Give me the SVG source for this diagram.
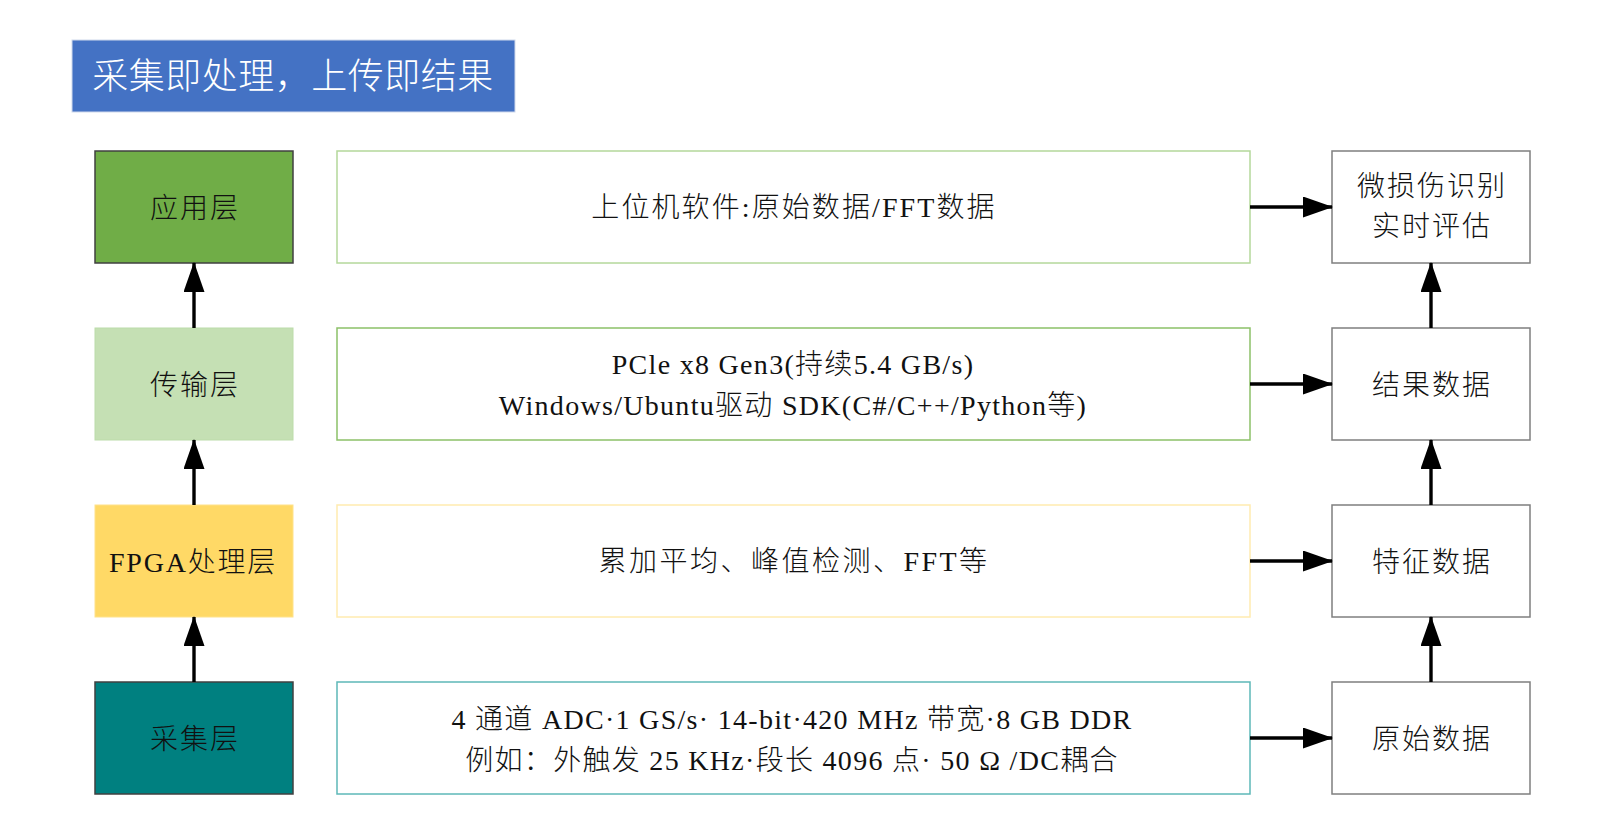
<svg xmlns="http://www.w3.org/2000/svg" width="1600" height="837" viewBox="0 0 1600 837">
<defs>
<marker id="arr" viewBox="0 0 30 21" markerWidth="30" markerHeight="21" refX="29" refY="10.5" orient="auto" markerUnits="userSpaceOnUse">
<path d="M0,0 L30,10.5 L0,21 Z" fill="#000"/>
</marker>
</defs>
<style>
text{font-family:"Liberation Serif","Noto Sans CJK SC",serif;font-size:28px;font-weight:300;fill:#111;text-anchor:middle;letter-spacing:1.3px}
.title{font-size:36px;fill:#fff;font-family:"Noto Sans CJK SC","Liberation Sans",sans-serif;font-weight:300;letter-spacing:0.5px}
.cj{font-family:"Noto Sans CJK SC",serif;font-weight:300;letter-spacing:2px}
.conn{stroke:#000;stroke-width:3.4;fill:none;marker-end:url(#arr)}
.mid{fill:#fff;stroke-width:1.5}
.right{fill:#fff;stroke:#7f7f7f;stroke-width:1.5}
</style>
<rect width="1600" height="837" fill="#fff"/>
<g id="title">
<rect x="72" y="40" width="443" height="72" fill="#4472C4" stroke="#d0d9ec" stroke-width="1"/>
<text class="title" x="293" y="89">采集即处理，上传即结果</text>
</g>
<g id="app-layer">
<rect x="95" y="151" width="198" height="112" fill="#70AD47" stroke="#404040" stroke-width="1.5"/>
<text class="cj" x="195" y="218">应用层</text>
</g>
<g id="trans-layer">
<rect x="95" y="328" width="198" height="112" fill="#C5E0B4" stroke="#bcdcaa" stroke-width="1"/>
<text class="cj" x="195" y="395">传输层</text>
</g>
<g id="fpga-layer">
<rect x="95" y="505" width="198" height="112" fill="#FFD966" stroke="#ffe28a" stroke-width="1"/>
<text x="193" y="572" style="letter-spacing:1.8px"><tspan>FPGA</tspan><tspan class="cj" style="letter-spacing:1.8px">处理层</tspan></text>
</g>
<g id="acq-layer">
<rect x="95" y="682" width="198" height="112" fill="#008080" stroke="#404040" stroke-width="1.5"/>
<text class="cj" x="195" y="749">采集层</text>
</g>
<g id="app-detail">
<rect class="mid" x="337" y="151" width="913" height="112" stroke="#B4D89B"/>
<text x="794" y="217" style="letter-spacing:2.1px">上位机软件:原始数据/FFT数据</text>
</g>
<g id="trans-detail">
<rect class="mid" x="337" y="328" width="913" height="112" stroke="#8CC168"/>
<text x="793" y="374">PCle x8 Gen3(持续5.4 GB/s)</text>
<text x="793" y="415">Windows/Ubuntu驱动 SDK(C#/C++/Python等)</text>
</g>
<g id="fpga-detail">
<rect class="mid" x="337" y="505" width="913" height="112" stroke="#FFEBB0"/>
<text x="794" y="571" style="letter-spacing:2.5px">累加平均、峰值检测、FFT等</text>
</g>
<g id="acq-detail">
<rect class="mid" x="337" y="682" width="913" height="112" stroke="#5DB8B8"/>
<text x="792" y="729">4 通道 ADC·1 GS/s· 14-bit·420 MHz 带宽·8 GB DDR</text>
<text x="792" y="770">例如：外触发 25 KHz·段长 4096 点· 50 Ω /DC耦合</text>
</g>
<g id="eval">
<rect class="right" x="1332" y="151" width="198" height="112"/>
<text class="cj" x="1432" y="196">微损伤识别</text>
<text class="cj" x="1432" y="236">实时评估</text>
</g>
<g id="result-data">
<rect class="right" x="1332" y="328" width="198" height="112"/>
<text class="cj" x="1432" y="395">结果数据</text>
</g>
<g id="feature-data">
<rect class="right" x="1332" y="505" width="198" height="112"/>
<text class="cj" x="1432" y="572">特征数据</text>
</g>
<g id="raw-data">
<rect class="right" x="1332" y="682" width="198" height="112"/>
<text class="cj" x="1432" y="749">原始数据</text>
</g>
<g id="connectors">
<line class="conn" x1="194" y1="328" x2="194" y2="263"/>
<line class="conn" x1="194" y1="505" x2="194" y2="440"/>
<line class="conn" x1="194" y1="682" x2="194" y2="617"/>
<line class="conn" x1="1431" y1="328" x2="1431" y2="263"/>
<line class="conn" x1="1431" y1="505" x2="1431" y2="440"/>
<line class="conn" x1="1431" y1="682" x2="1431" y2="617"/>
<line class="conn" x1="1250" y1="207" x2="1332" y2="207"/>
<line class="conn" x1="1250" y1="384" x2="1332" y2="384"/>
<line class="conn" x1="1250" y1="561" x2="1332" y2="561"/>
<line class="conn" x1="1250" y1="738" x2="1332" y2="738"/>
</g>
</svg>
